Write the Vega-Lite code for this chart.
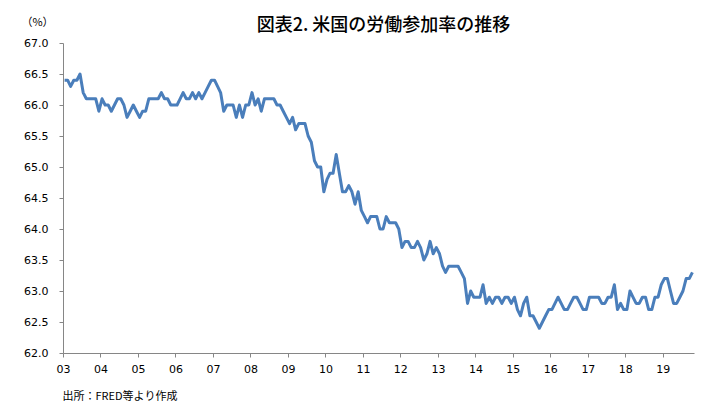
{
  "$schema": "https://vega.github.io/schema/vega-lite/v6.json",
  "description": "US labour force participation rate, monthly, Jan 2003 - Oct 2019",
  "autosize": {"type": "none"},
  "width": 631,
  "height": 310,
  "padding": {"left": 63, "top": 43, "right": 25, "bottom": 59},
  "background": "white",
  "view": {"stroke": null},
  "title": {
    "text": "図表2. 米国の労働参加率の推移",
    "font": "Noto Sans CJK JP",
    "fontSize": 18,
    "fontWeight": 500,
    "color": "black",
    "anchor": "middle",
    "frame": "group",
    "offset": 8,
    "dx": 5,
    "dy": 27
  },
  "data": {
    "values": [
      {"month": "2003-01", "rate": 66.4}, {"month": "2003-02", "rate": 66.4}, {"month": "2003-03", "rate": 66.3}, {"month": "2003-04", "rate": 66.4},
      {"month": "2003-05", "rate": 66.4}, {"month": "2003-06", "rate": 66.5}, {"month": "2003-07", "rate": 66.2}, {"month": "2003-08", "rate": 66.1},
      {"month": "2003-09", "rate": 66.1}, {"month": "2003-10", "rate": 66.1}, {"month": "2003-11", "rate": 66.1}, {"month": "2003-12", "rate": 65.9},
      {"month": "2004-01", "rate": 66.1}, {"month": "2004-02", "rate": 66.0}, {"month": "2004-03", "rate": 66.0}, {"month": "2004-04", "rate": 65.9},
      {"month": "2004-05", "rate": 66.0}, {"month": "2004-06", "rate": 66.1}, {"month": "2004-07", "rate": 66.1}, {"month": "2004-08", "rate": 66.0},
      {"month": "2004-09", "rate": 65.8}, {"month": "2004-10", "rate": 65.9}, {"month": "2004-11", "rate": 66.0}, {"month": "2004-12", "rate": 65.9},
      {"month": "2005-01", "rate": 65.8}, {"month": "2005-02", "rate": 65.9}, {"month": "2005-03", "rate": 65.9}, {"month": "2005-04", "rate": 66.1},
      {"month": "2005-05", "rate": 66.1}, {"month": "2005-06", "rate": 66.1}, {"month": "2005-07", "rate": 66.1}, {"month": "2005-08", "rate": 66.2},
      {"month": "2005-09", "rate": 66.1}, {"month": "2005-10", "rate": 66.1}, {"month": "2005-11", "rate": 66.0}, {"month": "2005-12", "rate": 66.0},
      {"month": "2006-01", "rate": 66.0}, {"month": "2006-02", "rate": 66.1}, {"month": "2006-03", "rate": 66.2}, {"month": "2006-04", "rate": 66.1},
      {"month": "2006-05", "rate": 66.1}, {"month": "2006-06", "rate": 66.2}, {"month": "2006-07", "rate": 66.1}, {"month": "2006-08", "rate": 66.2},
      {"month": "2006-09", "rate": 66.1}, {"month": "2006-10", "rate": 66.2}, {"month": "2006-11", "rate": 66.3}, {"month": "2006-12", "rate": 66.4},
      {"month": "2007-01", "rate": 66.4}, {"month": "2007-02", "rate": 66.3}, {"month": "2007-03", "rate": 66.2}, {"month": "2007-04", "rate": 65.9},
      {"month": "2007-05", "rate": 66.0}, {"month": "2007-06", "rate": 66.0}, {"month": "2007-07", "rate": 66.0}, {"month": "2007-08", "rate": 65.8},
      {"month": "2007-09", "rate": 66.0}, {"month": "2007-10", "rate": 65.8}, {"month": "2007-11", "rate": 66.0}, {"month": "2007-12", "rate": 66.0},
      {"month": "2008-01", "rate": 66.2}, {"month": "2008-02", "rate": 66.0}, {"month": "2008-03", "rate": 66.1}, {"month": "2008-04", "rate": 65.9},
      {"month": "2008-05", "rate": 66.1}, {"month": "2008-06", "rate": 66.1}, {"month": "2008-07", "rate": 66.1}, {"month": "2008-08", "rate": 66.1},
      {"month": "2008-09", "rate": 66.0}, {"month": "2008-10", "rate": 66.0}, {"month": "2008-11", "rate": 65.9}, {"month": "2008-12", "rate": 65.8},
      {"month": "2009-01", "rate": 65.7}, {"month": "2009-02", "rate": 65.8}, {"month": "2009-03", "rate": 65.6}, {"month": "2009-04", "rate": 65.7},
      {"month": "2009-05", "rate": 65.7}, {"month": "2009-06", "rate": 65.7}, {"month": "2009-07", "rate": 65.5}, {"month": "2009-08", "rate": 65.4},
      {"month": "2009-09", "rate": 65.1}, {"month": "2009-10", "rate": 65.0}, {"month": "2009-11", "rate": 65.0}, {"month": "2009-12", "rate": 64.6},
      {"month": "2010-01", "rate": 64.8}, {"month": "2010-02", "rate": 64.9}, {"month": "2010-03", "rate": 64.9}, {"month": "2010-04", "rate": 65.2},
      {"month": "2010-05", "rate": 64.9}, {"month": "2010-06", "rate": 64.6}, {"month": "2010-07", "rate": 64.6}, {"month": "2010-08", "rate": 64.7},
      {"month": "2010-09", "rate": 64.6}, {"month": "2010-10", "rate": 64.4}, {"month": "2010-11", "rate": 64.6}, {"month": "2010-12", "rate": 64.3},
      {"month": "2011-01", "rate": 64.2}, {"month": "2011-02", "rate": 64.1}, {"month": "2011-03", "rate": 64.2}, {"month": "2011-04", "rate": 64.2},
      {"month": "2011-05", "rate": 64.2}, {"month": "2011-06", "rate": 64.0}, {"month": "2011-07", "rate": 64.0}, {"month": "2011-08", "rate": 64.2},
      {"month": "2011-09", "rate": 64.1}, {"month": "2011-10", "rate": 64.1}, {"month": "2011-11", "rate": 64.1}, {"month": "2011-12", "rate": 64.0},
      {"month": "2012-01", "rate": 63.7}, {"month": "2012-02", "rate": 63.8}, {"month": "2012-03", "rate": 63.8}, {"month": "2012-04", "rate": 63.7},
      {"month": "2012-05", "rate": 63.7}, {"month": "2012-06", "rate": 63.8}, {"month": "2012-07", "rate": 63.7}, {"month": "2012-08", "rate": 63.5},
      {"month": "2012-09", "rate": 63.6}, {"month": "2012-10", "rate": 63.8}, {"month": "2012-11", "rate": 63.6}, {"month": "2012-12", "rate": 63.7},
      {"month": "2013-01", "rate": 63.6}, {"month": "2013-02", "rate": 63.4}, {"month": "2013-03", "rate": 63.3}, {"month": "2013-04", "rate": 63.4},
      {"month": "2013-05", "rate": 63.4}, {"month": "2013-06", "rate": 63.4}, {"month": "2013-07", "rate": 63.4}, {"month": "2013-08", "rate": 63.3},
      {"month": "2013-09", "rate": 63.2}, {"month": "2013-10", "rate": 62.8}, {"month": "2013-11", "rate": 63.0}, {"month": "2013-12", "rate": 62.9},
      {"month": "2014-01", "rate": 62.9}, {"month": "2014-02", "rate": 62.9}, {"month": "2014-03", "rate": 63.1}, {"month": "2014-04", "rate": 62.8},
      {"month": "2014-05", "rate": 62.9}, {"month": "2014-06", "rate": 62.8}, {"month": "2014-07", "rate": 62.9}, {"month": "2014-08", "rate": 62.9},
      {"month": "2014-09", "rate": 62.8}, {"month": "2014-10", "rate": 62.9}, {"month": "2014-11", "rate": 62.9}, {"month": "2014-12", "rate": 62.8},
      {"month": "2015-01", "rate": 62.9}, {"month": "2015-02", "rate": 62.7}, {"month": "2015-03", "rate": 62.6}, {"month": "2015-04", "rate": 62.8},
      {"month": "2015-05", "rate": 62.9}, {"month": "2015-06", "rate": 62.6}, {"month": "2015-07", "rate": 62.6}, {"month": "2015-08", "rate": 62.5},
      {"month": "2015-09", "rate": 62.4}, {"month": "2015-10", "rate": 62.5}, {"month": "2015-11", "rate": 62.6}, {"month": "2015-12", "rate": 62.7},
      {"month": "2016-01", "rate": 62.7}, {"month": "2016-02", "rate": 62.8}, {"month": "2016-03", "rate": 62.9}, {"month": "2016-04", "rate": 62.8},
      {"month": "2016-05", "rate": 62.7}, {"month": "2016-06", "rate": 62.7}, {"month": "2016-07", "rate": 62.8}, {"month": "2016-08", "rate": 62.9},
      {"month": "2016-09", "rate": 62.9}, {"month": "2016-10", "rate": 62.8}, {"month": "2016-11", "rate": 62.7}, {"month": "2016-12", "rate": 62.7},
      {"month": "2017-01", "rate": 62.9}, {"month": "2017-02", "rate": 62.9}, {"month": "2017-03", "rate": 62.9}, {"month": "2017-04", "rate": 62.9},
      {"month": "2017-05", "rate": 62.8}, {"month": "2017-06", "rate": 62.8}, {"month": "2017-07", "rate": 62.9}, {"month": "2017-08", "rate": 62.9},
      {"month": "2017-09", "rate": 63.1}, {"month": "2017-10", "rate": 62.7}, {"month": "2017-11", "rate": 62.8}, {"month": "2017-12", "rate": 62.7},
      {"month": "2018-01", "rate": 62.7}, {"month": "2018-02", "rate": 63.0}, {"month": "2018-03", "rate": 62.9}, {"month": "2018-04", "rate": 62.8},
      {"month": "2018-05", "rate": 62.8}, {"month": "2018-06", "rate": 62.9}, {"month": "2018-07", "rate": 62.9}, {"month": "2018-08", "rate": 62.7},
      {"month": "2018-09", "rate": 62.7}, {"month": "2018-10", "rate": 62.9}, {"month": "2018-11", "rate": 62.9}, {"month": "2018-12", "rate": 63.1},
      {"month": "2019-01", "rate": 63.2}, {"month": "2019-02", "rate": 63.2}, {"month": "2019-03", "rate": 63.0}, {"month": "2019-04", "rate": 62.8},
      {"month": "2019-05", "rate": 62.8}, {"month": "2019-06", "rate": 62.9}, {"month": "2019-07", "rate": 63.0}, {"month": "2019-08", "rate": 63.2},
      {"month": "2019-09", "rate": 63.2}, {"month": "2019-10", "rate": 63.3}
    ]
  },
  "mark": {"type": "line", "color": "#4A7EBB", "strokeWidth": 3, "strokeJoin": "round"},
  "encoding": {
    "x": {
      "field": "month",
      "timeUnit": "utcyearmonth",
      "type": "temporal",
      "bandPosition": 0.5,
      "scale": {
        "domain": [
          {"year": 2003, "month": 1, "date": 1, "utc": true},
          {"year": 2019, "month": 11, "date": 1, "utc": true}
        ],
        "nice": false
      },
      "axis": {
        "title": "出所：FRED等より作成",
        "titleFont": "Noto Sans CJK JP",
        "titleFontSize": 11,
        "titleFontWeight": "normal",
        "titleColor": "black",
        "titleAnchor": "start",
        "titleAlign": "left",
        "titleBaseline": "middle",
        "titleX": -1,
        "titleY": 43,
        "format": "%y",
        "values": [
          {"year": 2003, "month": 1, "date": 1, "utc": true},
          {"year": 2004, "month": 1, "date": 1, "utc": true},
          {"year": 2005, "month": 1, "date": 1, "utc": true},
          {"year": 2006, "month": 1, "date": 1, "utc": true},
          {"year": 2007, "month": 1, "date": 1, "utc": true},
          {"year": 2008, "month": 1, "date": 1, "utc": true},
          {"year": 2009, "month": 1, "date": 1, "utc": true},
          {"year": 2010, "month": 1, "date": 1, "utc": true},
          {"year": 2011, "month": 1, "date": 1, "utc": true},
          {"year": 2012, "month": 1, "date": 1, "utc": true},
          {"year": 2013, "month": 1, "date": 1, "utc": true},
          {"year": 2014, "month": 1, "date": 1, "utc": true},
          {"year": 2015, "month": 1, "date": 1, "utc": true},
          {"year": 2016, "month": 1, "date": 1, "utc": true},
          {"year": 2017, "month": 1, "date": 1, "utc": true},
          {"year": 2018, "month": 1, "date": 1, "utc": true},
          {"year": 2019, "month": 1, "date": 1, "utc": true}
        ],
        "labelOverlap": false,
        "grid": false,
        "domainColor": "#868686",
        "tickColor": "#868686",
        "tickSize": 4,
        "labelFont": "DejaVu Sans",
        "labelFontSize": 11,
        "labelColor": "black",
        "labelPadding": 6,
        "labelFlush": false
      }
    },
    "y": {
      "field": "rate",
      "type": "quantitative",
      "scale": {"domain": [62, 67], "nice": false, "zero": false},
      "axis": {
        "title": "（%）",
        "titleFont": "Noto Sans CJK JP",
        "titleFontSize": 11,
        "titleFontWeight": "normal",
        "titleColor": "black",
        "titleAngle": 0,
        "titleAlign": "center",
        "titleBaseline": "middle",
        "titleX": -26,
        "titleY": -21,
        "values": [62, 62.5, 63, 63.5, 64, 64.5, 65, 65.5, 66, 66.5, 67],
        "format": ".1f",
        "grid": false,
        "domainColor": "#868686",
        "tickColor": "#868686",
        "tickSize": 4,
        "labelFont": "DejaVu Sans",
        "labelFontSize": 11,
        "labelColor": "black",
        "labelPadding": 11
      }
    }
  }
}
